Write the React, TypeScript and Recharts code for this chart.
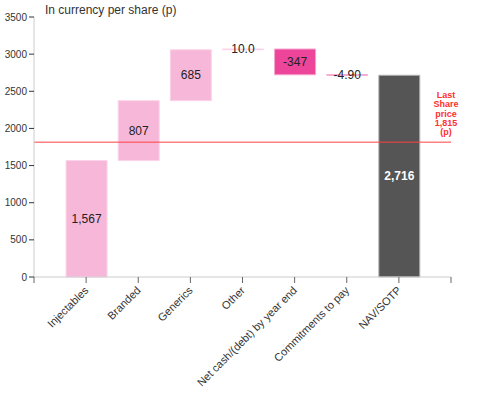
import {
  ComposedChart,
  Bar,
  XAxis,
  YAxis,
  Cell,
  LabelList,
  ReferenceLine,
} from "recharts";

const categories = [
  "Injectables",
  "Branded",
  "Generics",
  "Other",
  "Net cash/(debt) by year end",
  "Commitments to pay",
  "NAV/SOTP",
];
const values = [1567, 807, 685, 10.0, -347, -4.9, 2716];
const valueLabels = ["1,567", "807", "685", "10.0", "-347", "-4.90", "2,716"];
const yTicks = [0, 500, 1000, 1500, 2000, 2500, 3000, 3500];
const sharePrice = 1815;

const PINK = "#f7b7d9";
const HOT = "#ec4599";
const DARK = "#555555";

// running totals -> invisible base + visible step
let running = 0;
const data = categories.map((name, i) => {
  const v = values[i];
  const isTotal = i === categories.length - 1;
  let base: number;
  if (isTotal) {
    base = 0;
  } else if (v >= 0) {
    base = running;
    running += v;
  } else {
    running += v;
    base = running;
  }
  return {
    x: i + 1,
    name,
    base,
    step: Math.abs(v),
    label: valueLabels[i],
    color: isTotal ? DARK : v < 0 ? HOT : PINK,
    stroke: isTotal ? "#b5b5b5" : v < 0 ? "#f6a3cd" : "#fbd3e8",
  };
});

const XTick = (props: any) => {
  const { x, y, payload } = props;
  const name = categories[payload.value - 1];
  if (!name) return null;
  return (
    <g transform={`translate(${x - 2},${y + 1})`}>
      <text
        textAnchor="end"
        transform="rotate(-45)"
        fontSize={11}
        fill="#333"
        dy="0.65em"
      >
        {name}
      </text>
    </g>
  );
};

const PriceLabel = (props: any) => {
  const { viewBox } = props;
  const cx = viewBox.x + viewBox.width - 5;
  const lines = ["Last", "Share", "price", "1,815", "(p)"];
  return (
    <text
      x={cx}
      y={viewBox.y - 44}
      textAnchor="middle"
      fontSize={9}
      fontWeight="bold"
      fill="#ff3030"
    >
      {lines.map((l, i) => (
        <tspan key={l} x={cx} dy={i === 0 ? 0 : 9.3}>
          {l}
        </tspan>
      ))}
    </text>
  );
};

const ValueLabel = (props: any) => {
  const { x, y, width, height, index } = props;
  const d = data[index];
  const isTotal = index === data.length - 1;
  return (
    <text
      x={x + width / 2}
      y={y + height / 2}
      textAnchor="middle"
      dominantBaseline="central"
      fontSize={12}
      fontWeight={isTotal ? "bold" : "normal"}
      fill={isTotal ? "#ffffff" : "#222"}
    >
      {d.label}
    </text>
  );
};

export default function App() {
  return (
    <div
      style={{
        position: "absolute",
        left: 0,
        top: 0,
        width: 481,
        height: 395,
        fontFamily: "'Liberation Sans', Arial, sans-serif",
        background: "#fff",
      }}
    >
      <div
        style={{
          position: "absolute",
          left: 45,
          top: 3,
          fontSize: 12,
          color: "#333",
        }}
      >
        In currency per share (p)
      </div>
      <ComposedChart
        width={481}
        height={395}
        data={data}
        margin={{ top: 17, right: 30, bottom: 4, left: 4 }}
      >
        <XAxis
          dataKey="x"
          type="number"
          domain={[0, 8]}
          ticks={[0, 1, 2, 3, 4, 5, 6, 7, 8]}
          interval={0}
          height={114}
          tick={<XTick />}
          axisLine={{ stroke: "#cccccc" }}
          tickLine={{ stroke: "#666" }}
          tickSize={6}
        />
        <YAxis
          domain={[0, 3500]}
          ticks={yTicks}
          width={30}
          tick={{ fontSize: 10, fill: "#333" }}
          axisLine={{ stroke: "#cccccc" }}
          tickLine={{ stroke: "#333" }}
          tickSize={5}
        />
        <Bar
          dataKey="base"
          stackId="w"
          fill="none"
          stroke="none"
          barSize={41}
          isAnimationActive={false}
        >
          {data.map((d) => (
            <Cell key={d.name} fill="none" stroke="none" />
          ))}
        </Bar>
        <Bar
          dataKey="step"
          stackId="w"
          barSize={41}
          isAnimationActive={false}
        >
          {data.map((d) => (
            <Cell key={d.name} fill={d.color} stroke={d.stroke} strokeWidth={1} />
          ))}
          <LabelList dataKey="label" content={<ValueLabel />} />
        </Bar>
        <ReferenceLine
          y={sharePrice}
          stroke="#ff4040"
          strokeWidth={1}
          label={<PriceLabel />}
        />
      </ComposedChart>
    </div>
  );
}
